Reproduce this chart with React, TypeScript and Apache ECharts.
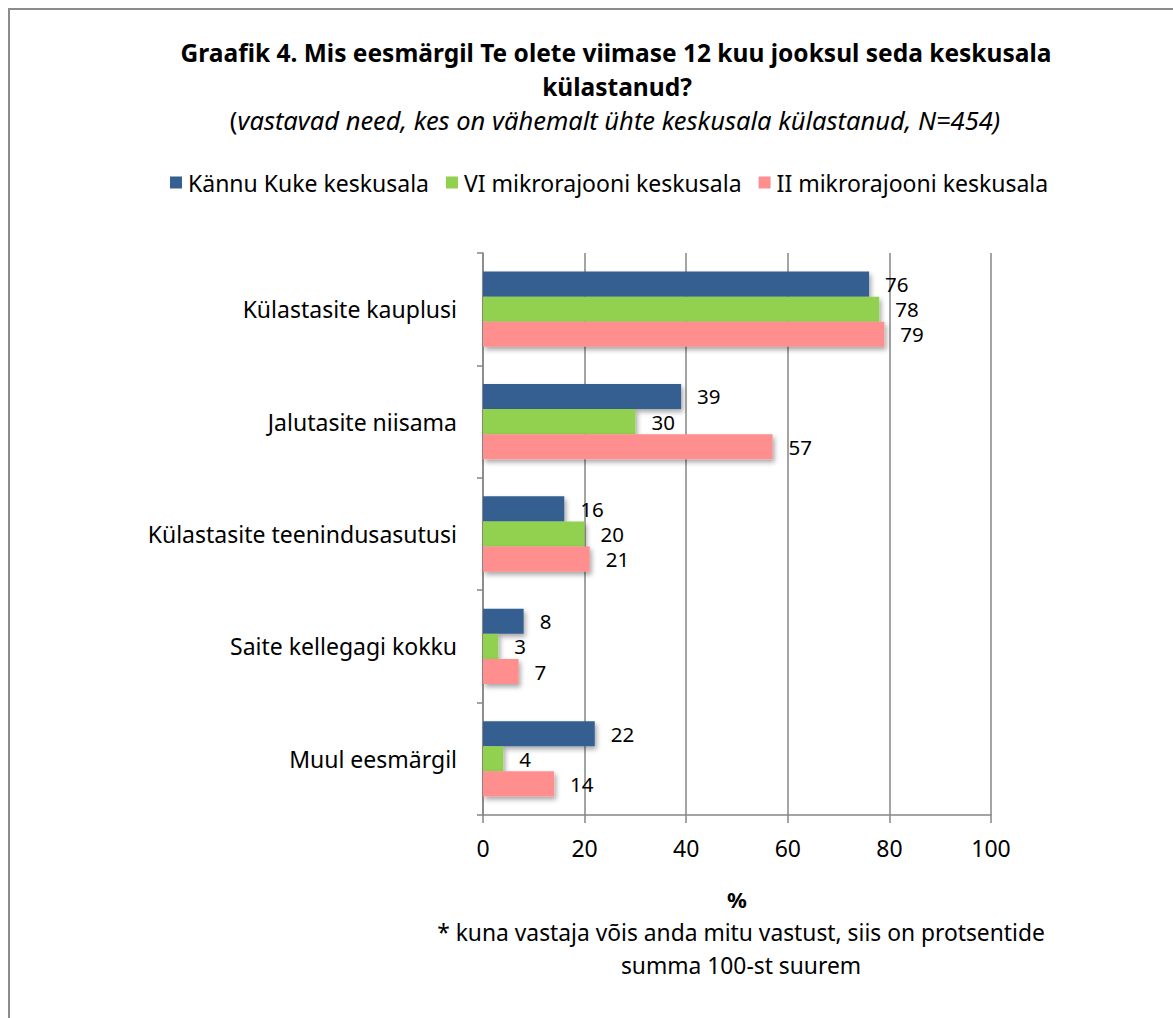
import React, { useEffect, useRef } from "react";
import * as echarts from "echarts";

const categories = [
  "Külastasite kauplusi",
  "Jalutasite niisama",
  "Külastasite teenindusasutusi",
  "Saite kellegagi kokku",
  "Muul eesmärgil",
];
const seriesNames = [
  "Kännu Kuke keskusala",
  "VI mikrorajooni keskusala",
  "II mikrorajooni keskusala",
];
const kannuKuke = [76, 39, 16, 8, 22];
const viMikro = [78, 30, 20, 3, 4];
const iiMikro = [79, 57, 21, 7, 14];
const xTicks = { min: 0, max: 100, interval: 20 };
const colors = ["#365F91", "#92D050", "#FF8F8F"];

const titleLine1 = "Graafik 4. Mis eesmärgil Te olete viimase 12 kuu jooksul seda keskusala";
const titleLine2 = "külastanud?";
const subtitle = "vastavad need, kes on vähemalt ühte keskusala külastanud, N=454)";
const footnote1 = "* kuna vastaja võis anda mitu vastust, siis on protsentide";
const footnote2 = "summa 100-st suurem";

const FONT = "'Noto Sans', 'Open Sans', sans-serif";
const FS = 23;

export default function App() {
  const ref = useRef<HTMLDivElement>(null);
  useEffect(() => {
    document.body.style.margin = "0";
    document.body.style.overflow = "hidden";
    const chart = echarts.init(ref.current!, null, { renderer: "svg" });
    const data = [kannuKuke, viMikro, iiMikro];
    chart.setOption({
      animation: false,
      backgroundColor: "#ffffff",
      textStyle: { fontFamily: FONT },
      legend: {
        top: 166,
        left: 165,
        itemWidth: 12,
        itemHeight: 12,
        itemGap: 17,
        icon: "rect",
        textStyle: { fontSize: 23, color: "#000", fontFamily: FONT, padding: [0, 0, 0, 1] },
        data: seriesNames,
      },
      grid: { left: 483, right: 182, top: 253, bottom: 203, containLabel: false },
      xAxis: {
        type: "value",
        min: xTicks.min,
        max: xTicks.max,
        interval: xTicks.interval,
        name: "%",
        nameLocation: "middle",
        nameGap: 73,
        nameTextStyle: { fontSize: 22, fontWeight: "bold", color: "#000", fontFamily: FONT },
        axisLine: { show: true, lineStyle: { color: "#868686", width: 1.5 } },
        axisTick: { show: true, length: 8, lineStyle: { color: "#868686", width: 1.5 } },
        axisLabel: { fontSize: FS, color: "#000", margin: 21, fontFamily: FONT },
        splitLine: { show: true, lineStyle: { color: "#868686", width: 1.5 } },
      },
      yAxis: {
        type: "category",
        inverse: true,
        data: categories,
        axisLine: { show: true, lineStyle: { color: "#868686", width: 1.5 } },
        axisTick: { show: true, length: 6, inside: false, lineStyle: { color: "#868686", width: 1.5 } },
        axisLabel: { fontSize: FS, color: "#000", margin: 26, fontFamily: FONT },
        splitLine: { show: false },
      },
      series: seriesNames.map((name, i) => ({
        name,
        type: "bar",
        data: data[i],
        barGap: "0%",
        barCategoryGap: "33%",
        itemStyle: {
          color: colors[i],
          shadowColor: "rgba(0,0,0,0.35)",
          shadowBlur: 5,
          shadowOffsetX: 2,
          shadowOffsetY: 3,
        },
        label: {
          show: true,
          position: "right",
          distance: 16,
          fontSize: 20.5,
          color: "#000",
          fontFamily: FONT,
        },
      })),
      graphic: [
        { type: "line", shape: { x1: 9, y1: 8, x2: 9, y2: 1018 }, style: { stroke: "#8c8c8c", lineWidth: 2 } },
        { type: "line", shape: { x1: 8, y1: 9, x2: 1173, y2: 9 }, style: { stroke: "#8c8c8c", lineWidth: 2 } },
        {
          type: "text",
          x: 616,
          y: 52,
          style: {
            text: titleLine1,
            textAlign: "center",
            textVerticalAlign: "middle",
            fontSize: 24.5,
            fontWeight: "bold",
            fontFamily: FONT,
            fill: "#000",
          },
        },
        {
          type: "text",
          x: 617,
          y: 86,
          style: {
            text: titleLine2,
            textAlign: "center",
            textVerticalAlign: "middle",
            fontSize: 24.5,
            fontWeight: "bold",
            fontFamily: FONT,
            fill: "#000",
          },
        },
        {
          type: "text",
          x: 615,
          y: 120,
          style: {
            text: "{a|(}{b|" + subtitle + "}",
            textAlign: "center",
            textVerticalAlign: "middle",
            rich: {
              a: { fontSize: 25.5, fontFamily: FONT, fill: "#000", color: "#000" },
              b: { fontSize: 25.5, fontFamily: FONT, fontStyle: "italic", fill: "#000", color: "#000" },
            },
          },
        },
        {
          type: "text",
          x: 741,
          y: 932,
          style: {
            text: footnote1,
            textAlign: "center",
            textVerticalAlign: "middle",
            fontSize: 22.8,
            fontFamily: FONT,
            fill: "#000",
          },
        },
        {
          type: "text",
          x: 741,
          y: 965,
          style: {
            text: footnote2,
            textAlign: "center",
            textVerticalAlign: "middle",
            fontSize: 22.8,
            fontFamily: FONT,
            fill: "#000",
          },
        },
      ],
    });
    return () => chart.dispose();
  }, []);
  return <div ref={ref} style={{ position: "absolute", left: 0, top: 0, width: 1173, height: 1018 }} />;
}
